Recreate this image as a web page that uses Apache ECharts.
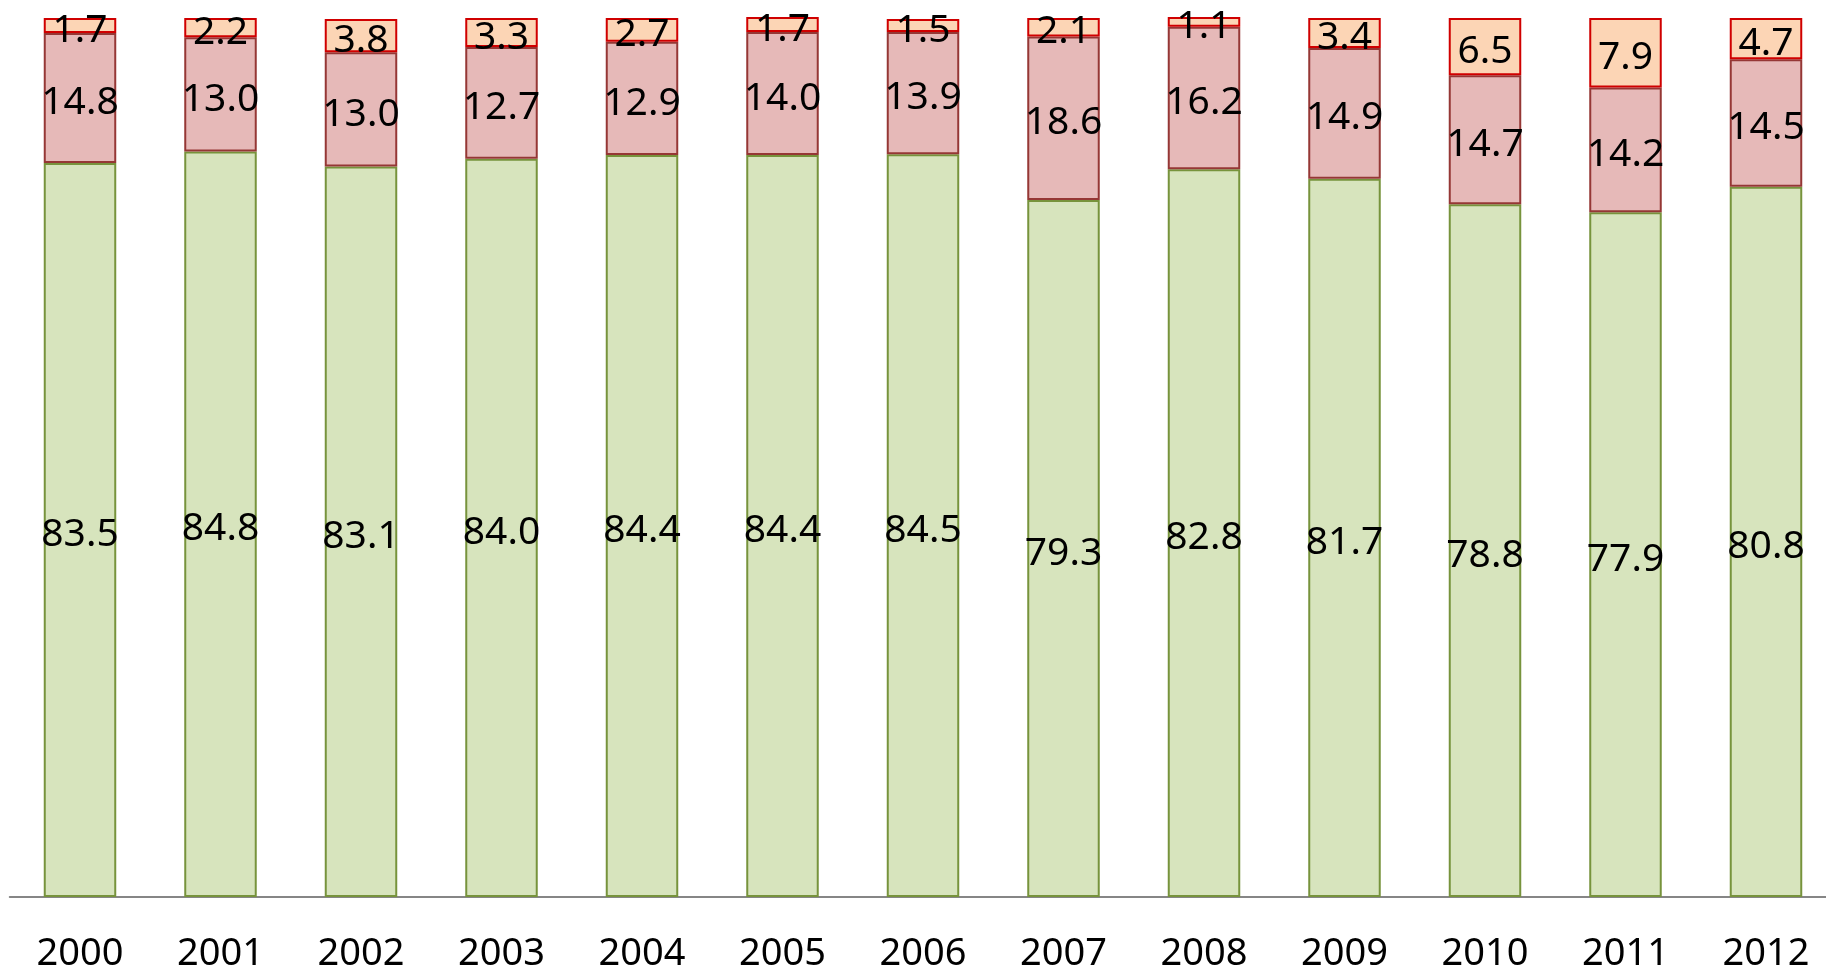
<!DOCTYPE html>
<html>
<head>
<meta charset="utf-8">
<script src="https://cdn.jsdelivr.net/npm/echarts@6/dist/echarts.min.js"></script>
<style>
html,body{margin:0;padding:0;background:#fff;}
#chart{width:1826px;height:969px;}
</style>
</head>
<body>
<div id="chart"></div>
<script>
const years = ['2000','2001','2002','2003','2004','2005','2006','2007','2008','2009','2010','2011','2012'];
const greenValues = [83.5, 84.8, 83.1, 84.0, 84.4, 84.4, 84.5, 79.3, 82.8, 81.7, 78.8, 77.9, 80.8];
const pinkValues  = [14.8, 13.0, 13.0, 12.7, 12.9, 14.0, 13.9, 18.6, 16.2, 14.9, 14.7, 14.2, 14.5];
const peachValues = [1.7, 2.2, 3.8, 3.3, 2.7, 1.7, 1.5, 2.1, 1.1, 3.4, 6.5, 7.9, 4.7];

const FONT = '"Noto Sans", "DejaVu Sans", sans-serif';
const chart = echarts.init(document.getElementById('chart'));

function seg(name, data, fill, border) {
  return {
    name: name,
    type: 'bar',
    stack: 'total',
    data: data,
    barWidth: '51.6%',
    itemStyle: { color: fill, borderColor: border, borderWidth: 2 },
    label: {
      show: true,
      position: 'inside',
      offset: [0, 5],
      color: '#000',
      fontFamily: FONT,
      fontSize: 39,
      formatter: p => Number(p.value).toFixed(1)
    },
    emphasis: { disabled: true },
    animation: false
  };
}

chart.setOption({
  animation: false,
  backgroundColor: '#fff',
  grid: { left: 9.75, width: 1826.5, top: 18, bottom: 72, containLabel: false, outerBoundsMode: 'none' },
  xAxis: {
    type: 'category',
    data: years,
    axisLine: { show: true, lineStyle: { color: '#868686', width: 2 } },
    axisTick: { show: false },
    axisLabel: { color: '#000', fontFamily: FONT, fontSize: 38, margin: 38 }
  },
  yAxis: {
    type: 'value',
    min: 0,
    max: 100,
    show: false,
    splitLine: { show: false }
  },
  series: [
    seg('A', greenValues, '#D7E4BD', '#77933C'),
    seg('B', pinkValues, '#E6B9B8', '#953735'),
    seg('C', peachValues, '#FCD5B5', '#D00000')
  ]
});
</script>
</body>
</html>
